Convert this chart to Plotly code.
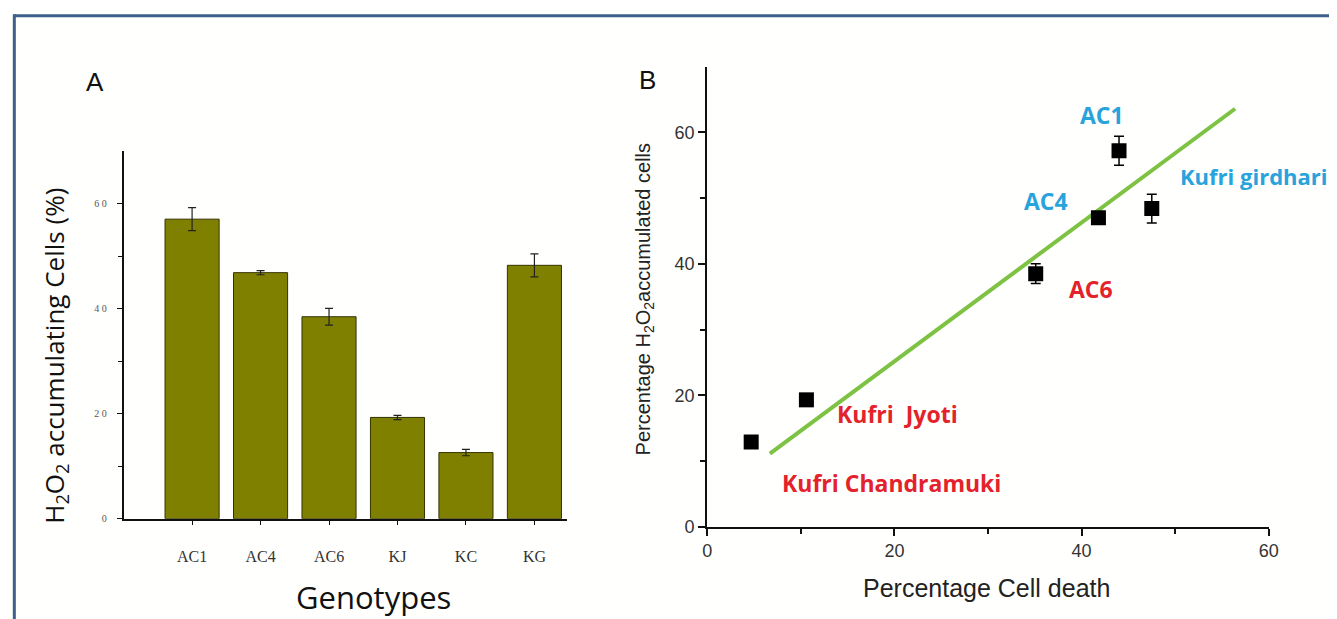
import plotly.graph_objects as go

# Panel A data
genotypes = ["AC1", "AC4", "AC6", "KJ", "KC", "KG"]
h2o2_pct = [57.1, 46.9, 38.5, 19.3, 12.6, 48.3]
h2o2_err = [2.2, 0.4, 1.6, 0.4, 0.6, 2.2]

# Panel B data
cell_death = [4.7, 10.6, 35.1, 41.8, 44.0, 47.5]
h2o2_b = [12.9, 19.3, 38.5, 47.0, 57.2, 48.4]
h2o2_b_err = [0, 0, 1.5, 0, 2.2, 2.2]
point_names = ["Kufri Chandramuki", "Kufri  Jyoti", "AC6", "AC4", "AC1", "Kufri girdhari"]
fit_x = [6.7, 56.4]
fit_y = [11.1, 63.6]

left_ticks = [0, 20, 40, 60]
left_ticktext = ["0", "2 0", "4 0", "6 0"]
right_ticks = [0, 20, 40, 60]

W, H = 1337, 619
# map target screen pixel -> figure fraction (compensates the page offset/scale seen in the render)
def px(x): return ((x - 13.3) / 0.9895) / W
def py(y): return 1 - ((y - 6.2) / 0.986) / H

fig = go.Figure()

fig.add_trace(go.Bar(
    x=list(range(len(genotypes))), y=h2o2_pct,
    error_y=dict(type="data", array=h2o2_err, color="#222", thickness=1.2, width=4),
    marker=dict(color="#808000", line=dict(color="#333300", width=1)),
    width=0.79, xaxis="x", yaxis="y", showlegend=False,
))

fig.add_trace(go.Scatter(
    x=fit_x, y=fit_y, mode="lines",
    line=dict(color="#7dc242", width=4),
    xaxis="x2", yaxis="y2", showlegend=False,
))

fig.add_trace(go.Scatter(
    x=cell_death, y=h2o2_b, mode="markers",
    marker=dict(symbol="square", size=15, color="black"),
    error_y=dict(type="data", array=h2o2_b_err, color="black", thickness=1.5, width=5),
    xaxis="x2", yaxis="y2", showlegend=False,
))

fig.update_layout(
    width=W, height=H,
    margin=dict(l=0, r=0, t=0, b=0),
    paper_bgcolor="#fffffd", plot_bgcolor="rgba(0,0,0,0)",
    xaxis=dict(domain=[px(124), px(568)], range=[-1, 5.48],
               tickmode="array", tickvals=list(range(len(genotypes))), ticktext=genotypes,
               showline=True, linecolor="#111", linewidth=1.5,
               ticks="outside", ticklen=5, tickcolor="#111",
               tickfont=dict(family="Liberation Serif", size=16, color="#333"),
               ticklabelstandoff=17,
               showgrid=False, zeroline=False, anchor="y"),
    yaxis=dict(domain=[py(518), py(150)], range=[0, 70],
               tickmode="array", tickvals=left_ticks, ticktext=left_ticktext,
               showline=True, linecolor="#111", linewidth=1.5,
               ticks="outside", ticklen=5, tickcolor="#111",
               minor=dict(tickvals=[10, 30, 50], ticks="outside", ticklen=4, tickcolor="#111"),
               tickfont=dict(family="Liberation Serif", size=10, color="#555"),
               ticklabelstandoff=8,
               showgrid=False, zeroline=False, anchor="x"),
    xaxis2=dict(domain=[px(708), px(1270)], range=[0, 60],
                tickmode="array", tickvals=right_ticks,
                showline=True, linecolor="#111", linewidth=2,
                ticks="outside", ticklen=7, tickwidth=2, tickcolor="#111",
                minor=dict(tickvals=[10, 30, 50], ticks="outside", ticklen=5, tickwidth=2, tickcolor="#111"),
                tickfont=dict(family="Liberation Sans", size=18, color="#333"),
                showgrid=False, zeroline=False, anchor="y2"),
    yaxis2=dict(domain=[py(526), py(65)], range=[0, 70],
                tickmode="array", tickvals=right_ticks,
                showline=True, linecolor="#111", linewidth=2,
                ticks="outside", ticklen=7, tickwidth=2, tickcolor="#111",
                minor=dict(tickvals=[10, 30, 50], ticks="outside", ticklen=5, tickwidth=2, tickcolor="#111"),
                tickfont=dict(family="Liberation Sans", size=18, color="#333"),
                showgrid=False, zeroline=False, anchor="x2"),
)

ann = []
def paper_text(text, x, y, size, family="Liberation Sans", color="#111", angle=0, bold=False):
    ann.append(dict(text=("<b>%s</b>" % text) if bold else text, x=px(x), y=py(y),
                    xref="paper", yref="paper", showarrow=False, textangle=angle,
                    xanchor="center", yanchor="middle",
                    font=dict(family=family, size=size, color=color)))

paper_text("A", 95, 80, 26)
paper_text("B", 648, 78, 26)
paper_text("Genotypes", 374, 596, 31, family="Open Sans")
paper_text("H<sub>2</sub>O<sub>2</sub> accumulating Cells (%)", 55, 355, 26, family="Open Sans", angle=-90)
paper_text("Percentage H<sub>2</sub>O<sub>2</sub>accumulated cells", 645, 298, 20, angle=-90, color="#222")
paper_text("Percentage Cell death", 988, 587, 25, color="#222")

blue = "#29a3dc"
red = "#e3222b"
label_pos = {
    "AC1": (1103, 113, blue),
    "AC4": (1047, 200, blue),
    "Kufri girdhari": (1255, 175, blue),
    "AC6": (1092, 288, red),
    "Kufri  Jyoti": (898, 413, red),
    "Kufri Chandramuki": (892, 482, red),
}
for name in point_names:
    x, y, c = label_pos[name]
    size = 22 if name == "Kufri girdhari" else 23
    paper_text(name, x, y, size, family="Open Sans", color=c, bold=True)

fig.update_layout(annotations=ann)

fig.add_shape(type="line", xref="paper", yref="paper", x0=0.001, x1=1.01, y0=py(14), y1=py(14),
              line=dict(color="#3d5f8c", width=3))
fig.add_shape(type="line", xref="paper", yref="paper", x0=0.001, x1=0.001, y0=py(12.5), y1=-0.01,
              line=dict(color="#3d5f8c", width=3))

fig.write_html("out.html")
